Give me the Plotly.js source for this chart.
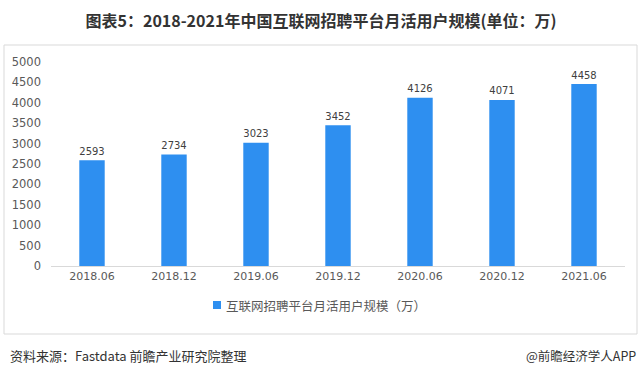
<!DOCTYPE html>
<html><head><meta charset="utf-8">
<script src="https://cdn.plot.ly/plotly-3.0.1.min.js"></script>
<style>body{margin:0;background:#fff}#c{width:642px;height:377px}</style>
</head><body><div id="c"></div>
<script>
const categories = ["2018.06","2018.12","2019.06","2019.12","2020.06","2020.12","2021.06"];
const values = [2593,2734,3023,3452,4126,4071,4458];
const seriesName = "互联网招聘平台月活用户规模（万）";
const yTicks = [0,500,1000,1500,2000,2500,3000,3500,4000,4500,5000];
const barColor = "#2e8ff0";

const font = "'Microsoft YaHei','Noto Sans CJK SC','DejaVu Sans',sans-serif";
const numFont = "'DejaVu Sans',sans-serif";
const trace = {
  type: "bar", x: categories, y: values, name: seriesName,
  marker: {color: barColor}, width: 0.31,
  text: values.map(String), textposition: "outside", cliponaxis: false,
  textfont: {size: 11.5, color: "#404040", family: numFont}
};
const px = v => (v - 51) / 574;
const py = v => (266 - v) / 204;
const layout = {
  width: 642, height: 377,
  margin: {l: 51, r: 17, t: 62, b: 111},
  paper_bgcolor: "#fff", plot_bgcolor: "#fff",
  font: {family: font, color: "#595959"},
  title: {text: "<b>图表5：2018-2021年中国互联网招聘平台月活用户规模(单位：万)</b>",
    x: 0.5, xanchor: "center", y: 1 - 21/377, yanchor: "middle", yref: "container",
    font: {size: 16, color: "#333", family: font}},
  xaxis: {type: "category", showgrid: false, showline: true, linecolor: "#d9d9d9", linewidth: 1,
    ticks: "", tickfont: {size: 11, color: "#595959", family: numFont}, fixedrange: true},
  yaxis: {range: [0, 5000], tickvals: yTicks, showgrid: false, zeroline: false, showline: false,
    ticks: "", ticklabelstandoff: 9,
    tickfont: {size: 11.5, color: "#595959", family: numFont}, fixedrange: true},
  showlegend: false,
  shapes: [
    {type: "rect", xref: "paper", yref: "paper", x0: px(4), x1: px(637), y0: py(334), y1: py(45),
      line: {color: "#d9d9d9", width: 1}, fillcolor: "rgba(0,0,0,0)"},
    {type: "rect", xref: "paper", yref: "paper", x0: px(213), x1: px(221), y0: py(309), y1: py(301),
      line: {width: 0}, fillcolor: barColor}
  ],
  annotations: [
    {xref: "paper", yref: "paper", x: px(224), y: py(305), xanchor: "left", yanchor: "middle", showarrow: false,
      text: seriesName, font: {size: 12.5, color: "#595959", family: font}},
    {xref: "paper", yref: "paper", x: px(8), y: py(355), xanchor: "left", yanchor: "middle", showarrow: false,
      text: "资料来源：Fastdata 前瞻产业研究院整理", font: {size: 13, color: "#333", family: font}},
    {xref: "paper", yref: "paper", x: px(638), y: py(355), xanchor: "right", yanchor: "middle", showarrow: false,
      text: "@前瞻经济学人APP", font: {size: 12.5, color: "#333", family: font}}
  ]
};
Plotly.newPlot("c", [trace], layout, {displayModeBar: false, staticPlot: true});
</script></body></html>
